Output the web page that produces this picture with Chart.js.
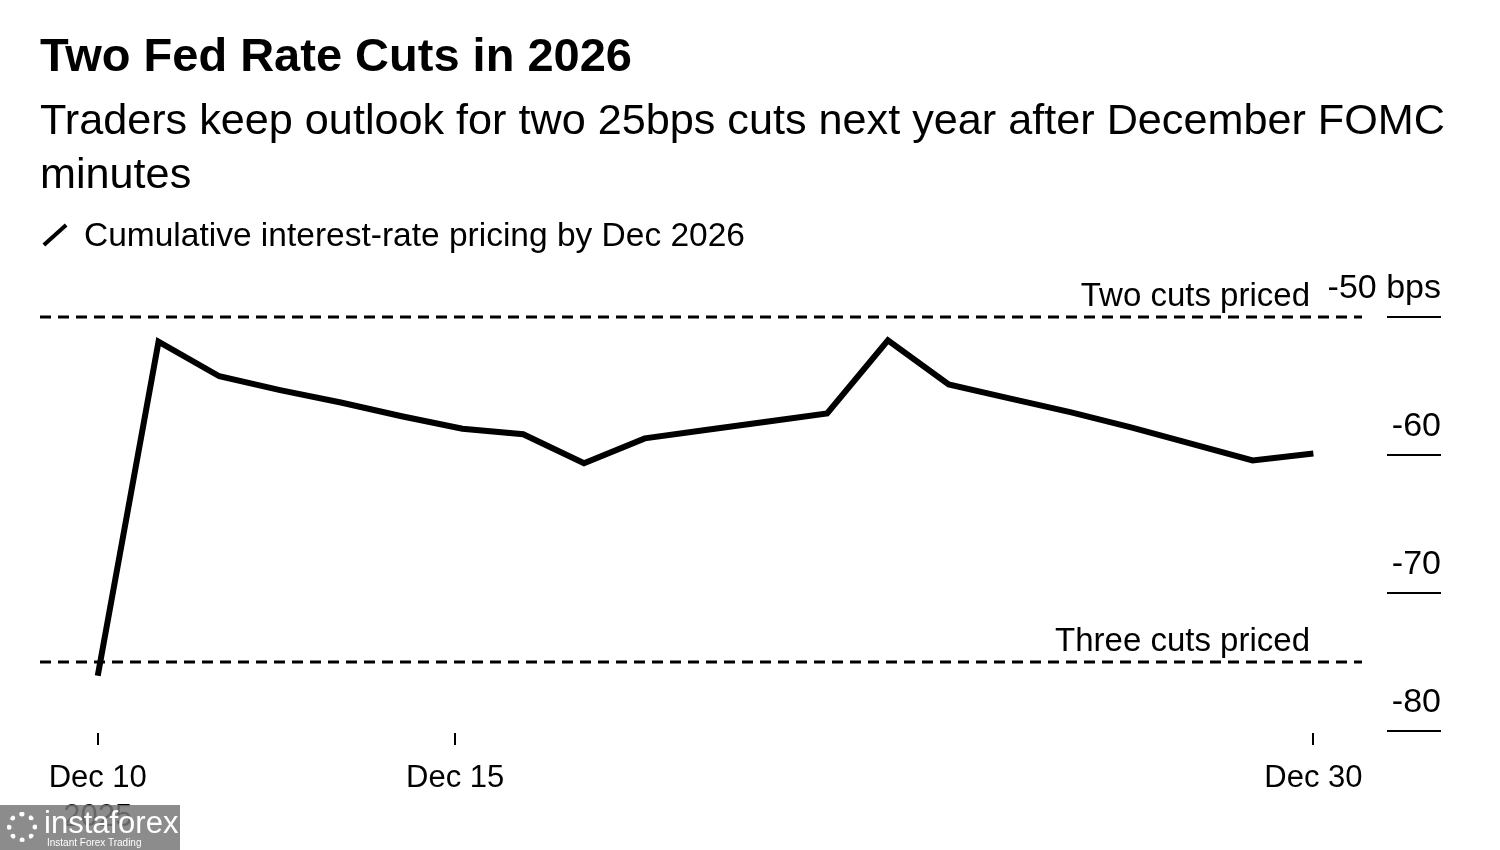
<!DOCTYPE html>
<html>
<head>
<meta charset="utf-8">
<script src="https://cdn.jsdelivr.net/npm/chart.js@4.4.1/dist/chart.umd.min.js"></script>
<style>
  body { margin: 0; background: #fff; font-family: "Liberation Sans", Arial, sans-serif; color: #000; }
  #wrap { position: relative; width: 1500px; height: 850px; overflow: hidden; }
  #myChart { position: absolute; left: 0; top: 0; }
  .title { position: absolute; left: 40px; top: 29px; font-size: 47px; font-weight: bold; line-height: 1.1; }
  .subtitle { position: absolute; left: 40px; top: 92px; width: 1455px; font-size: 43.2px; line-height: 54px; }
  .legend { position: absolute; left: 40px; top: 215px; font-size: 33.5px; line-height: 40px; }
  .legend .mark { display: inline-block; width: 30px; height: 4px; background: #000; transform: rotate(-42deg); vertical-align: middle; margin-right: 14px; position: relative; top: -2px; }
  .wm { position: absolute; left: 0; top: 805px; width: 180px; height: 45px; background: rgba(120,120,120,0.85); color: #fff; }
  .wm .big { position: absolute; left: 44px; top: 2px; font-size: 31px; line-height: 32px; }
  .wm .small { position: absolute; left: 47px; top: 32px; font-size: 10px; line-height: 11px; }
  .wm .gear { position: absolute; left: 7px; top: 7px; width: 30px; height: 30px; border-radius: 50%; border: 5px dotted #fff; box-sizing: border-box; }
</style>
</head>
<body>
<div id="wrap">
  <canvas id="myChart" width="1500" height="850"></canvas>
  <div class="title">Two Fed Rate Cuts in 2026</div>
  <div class="subtitle">Traders keep outlook for two 25bps cuts next year after December FOMC minutes</div>
  <div class="legend"><span class="mark"></span>Cumulative interest-rate pricing by Dec 2026</div>
  <div class="wm"><div class="gear"></div><div class="big">instaforex</div><div class="small">Instant Forex Trading</div></div>
</div>
<script>
// day offsets from Dec 10, 2025
let days = [0, 1, 2, 3, 4, 5, 6, 7, 8, 9, 10, 11, 12, 13, 14, 15, 16, 17, 18, 19, 20];
let pricing = [-76.0, -51.8, -54.3, -55.3, -56.2, -57.2, -58.1, -58.5, -60.6, -58.8, -58.2,
               -57.6, -57.0, -51.7, -54.9, -55.9, -56.9, -58.0, -59.2, -60.4, -59.9];

let xTickValues = [0, 5.88, 20];
let xTickLabels = [["Dec 10", "2025"], "Dec 15", "Dec 30"];
let yTickValues = [-50, -60, -70, -80];
let yTickLabels = ["-50 bps", "-60", "-70", "-80"];

let refValues = [-50, -75];
let refLabels = ["Two cuts priced", "Three cuts priced"];

let font = "Liberation Sans, Arial, sans-serif";

// draws the right-hand value labels and the dashed reference lines
let overlay = {
    id: "overlay",
    afterDatasetsDraw(chart) {
        let ctx = chart.ctx;
        let area = chart.chartArea;
        let y = chart.scales.y;
        ctx.save();
        ctx.fillStyle = "#000";
        ctx.strokeStyle = "#000";
        ctx.textAlign = "right";
        ctx.textBaseline = "alphabetic";
        ctx.font = "34px " + font;
        yTickValues.forEach((v, i) => {
            let py = Math.round(y.getPixelForValue(v));
            ctx.lineWidth = 2;
            ctx.beginPath();
            ctx.moveTo(area.right + 25, py);
            ctx.lineTo(area.right + 79, py);
            ctx.stroke();
            ctx.fillText(yTickLabels[i], area.right + 79, py - 19);
        });
        ctx.font = "33px " + font;
        refValues.forEach((v, i) => {
            let py = Math.round(y.getPixelForValue(v));
            ctx.lineWidth = 3;
            ctx.setLineDash([11, 7]);
            ctx.beginPath();
            ctx.moveTo(area.left, py);
            ctx.lineTo(area.right, py);
            ctx.stroke();
            ctx.setLineDash([]);
            ctx.fillText(refLabels[i], area.right - 52, py - 11);
        });
        ctx.restore();
    }
};

let myChart = document.getElementById("myChart").getContext("2d");

let lineChart = new Chart(myChart, {
    type: "line",
    data: {
        datasets: [{
            label: "Cumulative interest-rate pricing by Dec 2026",
            data: days.map((d, i) => ({ x: d, y: pricing[i] })),
            borderColor: "#000",
            borderWidth: 6,
            borderJoinStyle: "miter",
            pointRadius: 0,
            tension: 0,
            fill: false
        }]
    },
    options: {
        responsive: false,
        animation: false,
        layout: { padding: { left: 40, right: 138, top: 290, bottom: 17 } },
        plugins: {
            legend: { display: false },
            tooltip: { enabled: false }
        },
        scales: {
            x: {
                type: "linear",
                min: -0.95,
                max: 20.8,
                afterBuildTicks: (scale) => {
                    scale.ticks = xTickValues.map(v => ({ value: v }));
                },
                afterFit: (scale) => { scale.height = 100; },
                ticks: {
                    autoSkip: false,
                    maxRotation: 0,
                    padding: 14,
                    color: "#000",
                    font: { family: font, size: 31, lineHeight: 1.25 },
                    callback: (value, index) => xTickLabels[index]
                },
                grid: {
                    display: true,
                    drawOnChartArea: false,
                    drawTicks: true,
                    tickLength: 12,
                    color: "#000",
                    lineWidth: 2
                },
                border: { display: false }
            },
            y: {
                display: false,
                min: -80.15,
                max: -48.05
            }
        }
    },
    plugins: [overlay]
});
</script>
</body>
</html>
